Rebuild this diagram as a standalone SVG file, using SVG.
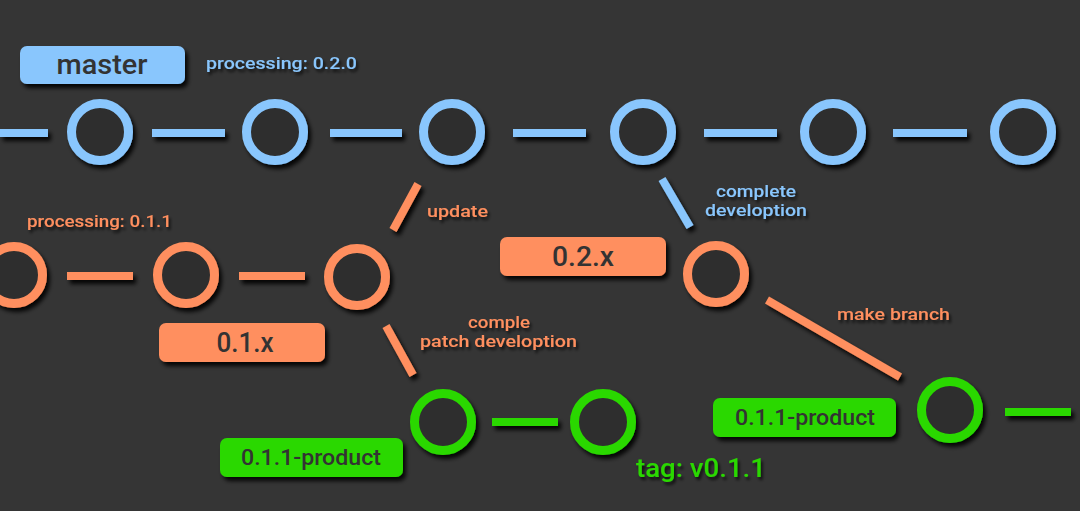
<svg xmlns="http://www.w3.org/2000/svg" width="1080" height="511" viewBox="0 0 1080 511">
<defs>
<filter id="sh" filterUnits="userSpaceOnUse" x="-20" y="-20" width="1120" height="551">
<feDropShadow dx="3" dy="4" stdDeviation="2" flood-color="#000" flood-opacity="0.9"/>
</filter>
<filter id="tsh" filterUnits="userSpaceOnUse" x="-20" y="-20" width="1120" height="551">
<feDropShadow dx="2" dy="3" stdDeviation="1.5" flood-color="#000" flood-opacity="0.7"/>
</filter>
</defs>
<style>
.bg{fill:#353535}
.node{fill:#2e2e2e;stroke-width:9;filter:url(#sh)}
.b{stroke:#89c6fd}
.o{stroke:#ff8f5e}
.g{stroke:#2ad800}
.ln{stroke-width:8;fill:none;filter:url(#sh)}
.box{filter:url(#sh)}
.bt{font-family:Roboto,"Liberation Sans",sans-serif;font-weight:500;fill:#333;text-anchor:middle}
.lt{font-family:Roboto,"Liberation Sans",sans-serif;font-weight:500;filter:url(#tsh)}
.tb{fill:#89c6fd}.to{fill:#ff8f5e}.tg{fill:#2ad800}
</style>
<rect class="bg" x="0" y="0" width="1080" height="511"/>
<g id="connectors">
<line class="ln b" x1="0" y1="133" x2="48" y2="133"/>
<line class="ln b" x1="152" y1="133" x2="225" y2="133"/>
<line class="ln b" x1="330" y1="133" x2="402" y2="133"/>
<line class="ln b" x1="513" y1="133" x2="586" y2="133"/>
<line class="ln b" x1="704" y1="133" x2="777" y2="133"/>
<line class="ln b" x1="893" y1="133" x2="967" y2="133"/>
<line class="ln b" x1="662" y1="179" x2="690" y2="227"/>
<line class="ln o" x1="67" y1="276" x2="133" y2="276"/>
<line class="ln o" x1="239" y1="276" x2="305" y2="276"/>
<line class="ln o" x1="393" y1="230" x2="418" y2="184"/>
<line class="ln o" x1="386" y1="326" x2="413" y2="375"/>
<line class="ln o" x1="767" y1="300" x2="900" y2="377"/>
<line class="ln g" x1="492" y1="422" x2="558" y2="422"/>
<line class="ln g" x1="1005" y1="412" x2="1071" y2="412"/>
</g>
<g id="m1"><circle class="node b" cx="100" cy="132" r="28.5"/></g>
<g id="m2"><circle class="node b" cx="275" cy="132" r="28.5"/></g>
<g id="m3"><circle class="node b" cx="452" cy="132" r="28.5"/></g>
<g id="m4"><circle class="node b" cx="643" cy="132" r="28.5"/></g>
<g id="m5"><circle class="node b" cx="833" cy="132" r="28.5"/></g>
<g id="m6"><circle class="node b" cx="1023" cy="132" r="28.5"/></g>
<g id="o1"><circle class="node o" cx="14" cy="275" r="28.5"/></g>
<g id="o2"><circle class="node o" cx="186" cy="275" r="28.5"/></g>
<g id="o3"><circle class="node o" cx="357" cy="277" r="28.5"/></g>
<g id="o4"><circle class="node o" cx="716" cy="274" r="28.5"/></g>
<g id="g1"><circle class="node g" cx="443" cy="422" r="28.5"/></g>
<g id="g2"><circle class="node g" cx="603" cy="422" r="28.5"/></g>
<g id="g3"><circle class="node g" cx="950" cy="410" r="28.5"/></g>
<g id="label-master">
<rect class="box" x="20" y="46" width="165" height="38" rx="7" fill="#89c6fd"/>
<text class="bt" x="102" y="74" font-size="27" textLength="91" lengthAdjust="spacingAndGlyphs">master</text>
</g>
<g id="label-01x">
<rect class="box" x="159" y="323" width="166" height="39" rx="7" fill="#ff8f5e"/>
<text class="bt" x="245" y="352" font-size="27" textLength="57" lengthAdjust="spacingAndGlyphs">0.1.x</text>
</g>
<g id="label-02x">
<rect class="box" x="500" y="237" width="166" height="39" rx="7" fill="#ff8f5e"/>
<text class="bt" x="583" y="266" font-size="27" textLength="62" lengthAdjust="spacingAndGlyphs">0.2.x</text>
</g>
<g id="label-prod1">
<rect class="box" x="220" y="438" width="183" height="39" rx="7" fill="#2ad800"/>
<text class="bt" x="311" y="465" font-size="22" textLength="140" lengthAdjust="spacingAndGlyphs">0.1.1-product</text>
</g>
<g id="label-prod2">
<rect class="box" x="713" y="398" width="183" height="39" rx="7" fill="#2ad800"/>
<text class="bt" x="805" y="425" font-size="22" textLength="140" lengthAdjust="spacingAndGlyphs">0.1.1-product</text>
</g>
<g id="annotations">
<text class="lt tb" x="206" y="69" font-size="17" textLength="151" lengthAdjust="spacingAndGlyphs">processing: 0.2.0</text>
<text class="lt to" x="27" y="227" font-size="17" textLength="145" lengthAdjust="spacingAndGlyphs">processing: 0.1.1</text>
<text class="lt to" x="427" y="217" font-size="17" textLength="61" lengthAdjust="spacingAndGlyphs">update</text>
<text class="lt tb" x="716" y="197" font-size="17" textLength="80" lengthAdjust="spacingAndGlyphs">complete</text>
<text class="lt tb" x="705" y="216" font-size="17" textLength="102" lengthAdjust="spacingAndGlyphs">develoption</text>
<text class="lt to" x="468" y="328" font-size="17" textLength="62" lengthAdjust="spacingAndGlyphs">comple</text>
<text class="lt to" x="420" y="347" font-size="17" textLength="157" lengthAdjust="spacingAndGlyphs">patch develoption</text>
<text class="lt to" x="837" y="320" font-size="17" textLength="113" lengthAdjust="spacingAndGlyphs">make branch</text>
<text class="lt tg" x="636" y="477" font-size="26" textLength="130" lengthAdjust="spacingAndGlyphs">tag: v0.1.1</text>
</g>
</svg>
